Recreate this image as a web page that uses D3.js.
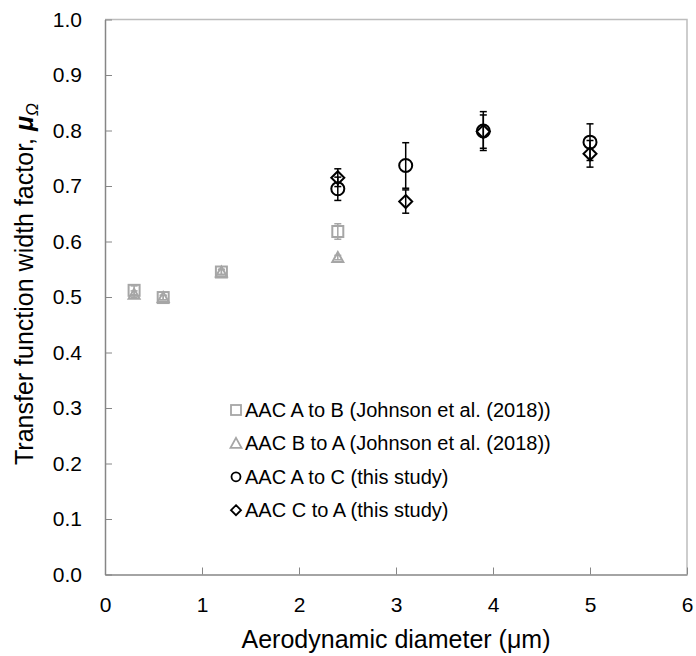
<!DOCTYPE html>
<html>
<head>
<meta charset="utf-8">
<script src="https://cdn.jsdelivr.net/npm/d3@7"></script>
<style>
  body { margin: 0; background: #fff; }
  text { font-family: "Liberation Sans", Arial, sans-serif; }
</style>
</head>
<body>
<script>
// Set Dimensions

const width = 696, height = 656;
const margin = {left: 105, top: 19.5, right: 9, bottom: 81.5};
const xMax = width - margin.left - margin.right;
const yMax = height - margin.top - margin.bottom;

// Data

const xTicks = [0, 1, 2, 3, 4, 5, 6];
const yTicks = [0, 0.1, 0.2, 0.3, 0.4, 0.5, 0.6, 0.7, 0.8, 0.9, 1.0];

const abX = [0.3, 0.6, 1.2, 2.4];
const abY = [0.512, 0.499, 0.545, 0.618];
const abErr = [0.008, 0.004, 0.005, 0.014];

const baX = [0.3, 0.6, 1.2, 2.4];
const baY = [0.505, 0.499, 0.545, 0.571];
const baErr = [0.006, 0.004, 0.004, 0.004];

const acX = [2.4, 3.1, 3.9, 5.0];
const acY = [0.695, 0.737, 0.799, 0.779];
const acErr = [0.021, 0.041, 0.035, 0.033];

const caX = [2.4, 3.1, 3.9, 5.0];
const caY = [0.715, 0.672, 0.798, 0.758];
const caErr = [0.016, 0.021, 0.030, 0.024];

const legendNames = [
  "AAC A to B (Johnson et al. (2018))",
  "AAC B to A (Johnson et al. (2018))",
  "AAC A to C (this study)",
  "AAC C to A (this study)"
];

// Create the SVG

const svg = d3.select("body")
  .append("svg")
  .attr("width", width)
  .attr("height", height);

const g = svg.append("g")
  .attr("transform", `translate(${margin.left},${margin.top})`);

const x = d3.scaleLinear().domain([0, 6]).range([0, xMax]);
const y = d3.scaleLinear().domain([0, 1]).range([yMax, 0]);

// frame (top and right, lighter)

g.append("path")
  .attr("d", `M0,0H${xMax}V${yMax}`)
  .attr("fill", "none")
  .attr("stroke", "#bdbdbd")
  .attr("stroke-width", 1.5);

// axes, ticks pointing inward

const xAxis = g.append("g")
  .attr("transform", `translate(0,${yMax})`)
  .call(d3.axisBottom(x).tickValues(xTicks).tickFormat(d3.format("d"))
    .tickSizeInner(-7).tickSizeOuter(0).tickPadding(23));

const yAxis = g.append("g")
  .call(d3.axisLeft(y).tickValues(yTicks).tickFormat(d3.format(".1f"))
    .tickSizeInner(-7).tickSizeOuter(0).tickPadding(23));

[xAxis, yAxis].forEach(a => {
  a.select(".domain").attr("stroke", "#868686").attr("stroke-width", 1.5);
  a.selectAll(".tick line").attr("stroke", "#868686").attr("stroke-width", 1);
  a.selectAll(".tick text").attr("fill", "#000").attr("font-size", 21)
    .attr("font-family", "Liberation Sans, Arial, sans-serif");
});

// axis titles

svg.append("text")
  .attr("x", margin.left + xMax / 2)
  .attr("y", 648)
  .attr("text-anchor", "middle")
  .attr("font-size", 25)
  .text("Aerodynamic diameter (\u03BCm)");

const yt = svg.append("text")
  .attr("transform", "translate(33,284) rotate(-90)")
  .attr("text-anchor", "middle")
  .attr("font-size", 25);
yt.append("tspan").text("Transfer function width factor,  ");
yt.append("tspan").attr("font-weight", "bold").attr("font-style", "italic").text("\u03BC");
yt.append("tspan").attr("font-style", "italic").attr("font-size", 17).attr("dy", 5).text("\u03A9");

// Marker shapes

function marker(sel, shape, s) {
  if (shape === "square") {
    sel.append("rect").attr("x", -s).attr("y", -s).attr("width", 2 * s).attr("height", 2 * s);
  } else if (shape === "triangle") {
    sel.append("path").attr("d", `M0,${-s}L${s},${s * 0.8}L${-s},${s * 0.8}Z`);
  } else if (shape === "circle") {
    sel.append("circle").attr("r", s);
  } else {
    sel.append("path").attr("d", `M0,${-s}L${s},0L0,${s}L${-s},0Z`);
  }
}

function plotSeries(xs, ys, errs, shape, color, size) {
  const data = xs.map((d, i) => ({x: d, y: ys[i], e: errs[i]}));
  const grp = g.append("g");

  // error bars
  const eb = grp.selectAll(".eb").data(data).join("g")
    .attr("stroke", color).attr("stroke-width", 1.5);
  eb.append("line")
    .attr("x1", d => x(d.x)).attr("x2", d => x(d.x))
    .attr("y1", d => y(d.y + d.e)).attr("y2", d => y(d.y - d.e));
  eb.append("line")
    .attr("x1", d => x(d.x) - 3.5).attr("x2", d => x(d.x) + 3.5)
    .attr("y1", d => y(d.y + d.e)).attr("y2", d => y(d.y + d.e));
  eb.append("line")
    .attr("x1", d => x(d.x) - 3.5).attr("x2", d => x(d.x) + 3.5)
    .attr("y1", d => y(d.y - d.e)).attr("y2", d => y(d.y - d.e));

  // markers
  grp.selectAll(".pt").data(data).join("g")
    .attr("transform", d => `translate(${x(d.x)},${y(d.y)})`)
    .attr("fill", "none").attr("stroke", color).attr("stroke-width", 2)
    .each(function() { marker(d3.select(this), shape, size); });
}

plotSeries(abX, abY, abErr, "square", "#a6a6a6", 5.5);
plotSeries(baX, baY, baErr, "triangle", "#a6a6a6", 5.5);
plotSeries(acX, acY, acErr, "circle", "#000", 6.5);
plotSeries(caX, caY, caErr, "diamond", "#000", 6.5);

// Legend

const legendShapes = ["square", "triangle", "circle", "diamond"];
const legendColors = ["#a6a6a6", "#a6a6a6", "#000", "#000"];
const legendSizes = [5, 5.5, 4.5, 5];

const legend = svg.append("g").attr("transform", "translate(236,410)");
legendNames.forEach((name, i) => {
  const row = legend.append("g").attr("transform", `translate(0,${i * 33.4})`);
  row.append("g")
    .attr("fill", "none").attr("stroke", legendColors[i]).attr("stroke-width", 1.8)
    .call(s => marker(s, legendShapes[i], legendSizes[i]));
  row.append("text")
    .attr("x", 9).attr("y", 7)
    .attr("font-size", 20)
    .text(name);
});
</script>
</body>
</html>
